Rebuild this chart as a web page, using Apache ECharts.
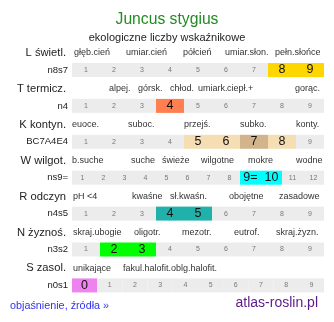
<!DOCTYPE html>
<html>
<head>
<meta charset="utf-8">
<script src="https://cdn.jsdelivr.net/npm/echarts@6/dist/echarts.min.js"></script>
<style>
html,body{margin:0;padding:0;background:#fff;}
#c{width:334px;height:322px;}
</style>
</head>
<body>
<div id="c"></div>
<script>
// ---- data ----
const titleText = 'Juncus stygius';
const subtitleText = 'ekologiczne liczby wskaźnikowe';
const rowTitles = ['L świetl.', 'T termicz.', 'K kontyn.', 'W wilgot.', 'R odczyn', 'N żyznoś.', 'S zasol.'];
const rowCodes = ['n8s7', 'n4', 'BC7A4E4', 'ns9=', 'n4s5', 'n3s2', 'n0s1'];

const lCells = ['1','2','3','4','5','6','7','8','9'];
const tCells = ['1','2','3','4','5','6','7','8','9'];
const kCells = ['1','2','3','4','5','6','7','8','9'];
const wCells = ['1','2','3','4','5','6','7','8','9=','10','11','12'];
const rCells = ['1','2','3','4','5','6','7','8','9'];
const nCells = ['1','2','3','4','5','6','7','8','9'];
const sCells = ['0','1','2','3','4','5','6','7','8','9'];

// highlighted cells (index into the cell list) and their highlight class
const lHigh = {7:'L', 8:'L'};
const tHigh = {3:'T'};
const kHigh = {4:'Kl', 5:'Kl', 6:'Kd', 7:'Kl'};
const wHigh = {8:'W', 9:'W'};
const rHigh = {3:'R', 4:'R'};
const nHigh = {1:'N', 2:'N'};
const sHigh = {0:'S'};

const lHeads = ['głęb.cień','umiar.cień','półcień','umiar.słon.','pełn.słońce'];
const tHeads = ['alpej.','górsk.','chłod.','umiark.','ciepł.+','gorąc.'];
const kHeads = ['euoce.','suboc.','przejś.','subko.','konty.'];
const wHeads = ['b.suche','suche','świeże','wilgotne','mokre','wodne'];
const rHeads = ['pH <4','kwaśne','sł.kwaśn.','obojętne','zasadowe'];
const nHeads = ['skraj.ubogie','oligotr.','mezotr.','eutrof.','skraj.żyzn.'];
const sHeads = ['unikające','fakul.halofit.','oblg.halofit.'];

const footLeft = 'objaśnienie, źródła »';
const footRight = 'atlas-roslin.pl';

// ---- styles / layout ----
const hiColors = {L:'#ffd700', T:'#ff7f50', Kl:'#f5deb3', Kd:'#d2b48c', W:'#00ffff', R:'#20b2aa', N:'#00ff00', S:'#ee82ee'};
const cellsAll = [lCells,tCells,kCells,wCells,rCells,nCells,sCells];
const highAll = [lHigh,tHigh,kHigh,wHigh,rHigh,nHigh,sHigh];
const headsAll = [lHeads,tHeads,kHeads,wHeads,rHeads,nHeads,sHeads];
const headX = [
  [74,126,183,225,275],
  [109,138,170,198,227,295],
  [72,128,184,240,296],
  [72,131,162,201,248,296],
  [73,132,170,229,279],
  [73,134,182,234,276],
  [73,123,171]
];
const FONT = '"Liberation Sans", Arial, sans-serif';
const rowTop0 = 63, rowStep = 35.9, cellH = 14, stripLeft = 72, stripW = 252;

const grids = [], xAxes = [], yAxes = [], series = [], graphics = [];
cellsAll.forEach((cells, i) => {
  const top = rowTop0 + i * rowStep;
  grids.push({left: stripLeft, top: top, width: stripW, height: cellH});
  xAxes.push({type:'category', gridIndex:i, data:cells, show:false, boundaryGap:true});
  yAxes.push({type:'value', gridIndex:i, min:0, max:1, show:false});
  const hi = highAll[i];
  series.push({
    type:'bar', xAxisIndex:i, yAxisIndex:i, barWidth:'100%', barGap:0, barCategoryGap:0,
    silent:true, animation:false,
    data: cells.map((c, j) => {
      const h = hi[j];
      return {
        value: 1,
        itemStyle: {color: h ? hiColors[h] : '#ececec'},
        label: {
          show: true, position: 'inside', formatter: c,
          fontFamily: FONT,
          fontSize: h ? 12.5 : 7,
          color: h ? '#111' : '#777'
        }
      };
    })
  });
  graphics.push({type:'text', x: 66, y: top - 10, style:{text: rowTitles[i], font: '11.2px ' + FONT, fill:'#222', textAlign:'right', textVerticalAlign:'middle'}});
  graphics.push({type:'text', x: 68, y: top + 7, style:{text: rowCodes[i], font: '9.5px ' + FONT, fill:'#222', textAlign:'right', textVerticalAlign:'middle'}});
  headsAll[i].forEach((t, k) => {
    graphics.push({type:'text', x: headX[i][k], y: top - 10, style:{text: t, font: '9px ' + FONT, fill:'#333', textAlign:'left', textVerticalAlign:'middle'}});
  });
});
graphics.push({type:'text', x:167, y:20, style:{text:titleText, font:'15.7px ' + FONT, fill:'#228b22', textAlign:'center', textVerticalAlign:'middle'}});
graphics.push({type:'text', x:167, y:38, style:{text:subtitleText, font:'11px ' + FONT, fill:'#222', textAlign:'center', textVerticalAlign:'middle'}});
graphics.push({type:'text', x:10, y:306, style:{text:footLeft, font:'10.8px ' + FONT, fill:'#3333ee', textAlign:'left', textVerticalAlign:'middle'}});
graphics.push({type:'text', x:318, y:303, style:{text:footRight, font:'14px ' + FONT, fill:'#5b1a8b', textAlign:'right', textVerticalAlign:'middle'}});

const chart = echarts.init(document.getElementById('c'), null, {renderer:'canvas'});
chart.setOption({
  animation:false,
  grid: grids, xAxis: xAxes, yAxis: yAxes, series: series,
  graphic: graphics
});
</script>
</body>
</html>
